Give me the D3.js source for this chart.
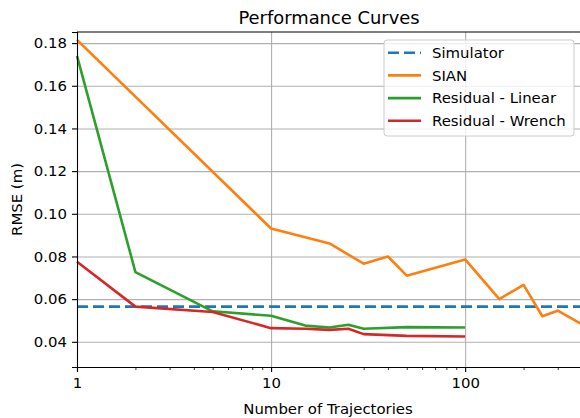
<!DOCTYPE html>
<html>
<head>
<meta charset="utf-8">
<script src="https://cdn.jsdelivr.net/npm/d3@7"></script>
<style>
	body { margin: 0; background: #fff; }
	svg { display: block; font-family: 'DejaVu Sans', sans-serif; }
</style>
</head>
<body>
<div id="chart"></div>
<script>
// values
const simulatorX = [1, 400];
const simulatorY = [0.0565, 0.0565];

const sianX = [1, 10, 20, 30, 40, 50, 100, 150, 200, 250, 300, 400];
const sianY = [0.1815, 0.0931, 0.0861, 0.0766, 0.0800, 0.0710, 0.0786, 0.0600, 0.0667, 0.0520, 0.0546, 0.0482];

const linearX = [1, 2, 5, 10, 15, 20, 25, 30, 50, 100];
const linearY = [0.1740, 0.0727, 0.0543, 0.0522, 0.0476, 0.0467, 0.0480, 0.0461, 0.0469, 0.0467];

const wrenchX = [1, 2, 5, 10, 15, 20, 25, 30, 50, 100];
const wrenchY = [0.0775, 0.0565, 0.0540, 0.0464, 0.0461, 0.0456, 0.0461, 0.0436, 0.0428, 0.0425];

const seriesNames = ['Simulator', 'SIAN', 'Residual - Linear', 'Residual - Wrench'];
const seriesColors = ['#1f77b4', '#ff7f0e', '#2ca02c', '#d62728'];

const xTicks = [1, 10, 100];
const xTickLabels = ['1', '10', '100'];
const yTicks = [0.04, 0.06, 0.08, 0.10, 0.12, 0.14, 0.16, 0.18];

const series = [
	{ name: seriesNames[0], x: simulatorX, y: simulatorY, color: seriesColors[0], dash: '11,5' },
	{ name: seriesNames[1], x: sianX, y: sianY, color: seriesColors[1], dash: null },
	{ name: seriesNames[2], x: linearX, y: linearY, color: seriesColors[2], dash: null },
	{ name: seriesNames[3], x: wrenchX, y: wrenchY, color: seriesColors[3], dash: null }
];

const width = 580, height = 418;
const margin = { top: 32, right: -2, bottom: 51, left: 77 };
const fontSize = 14.9;

const svg = d3.select('#chart').append('svg').attr('width', width).attr('height', height);

const xScale = d3.scaleLog().domain([1, 400]).range([margin.left, width - margin.right]);
const yScale = d3.scaleLinear().domain([0.0282, 0.1852]).range([height - margin.bottom, margin.top]);

const plotBottom = height - margin.bottom;

// grid
svg.append('g').attr('class', 'grid-y')
	.attr('transform', `translate(${margin.left},0)`)
	.call(d3.axisLeft(yScale).tickValues(yTicks).tickSize(-(width - margin.left)).tickFormat(''))
	.call(g => g.select('.domain').remove())
	.call(g => g.selectAll('line').attr('stroke', '#b0b0b0').attr('stroke-width', 1.1));

svg.append('g').attr('class', 'grid-x')
	.attr('transform', `translate(0,${plotBottom})`)
	.call(d3.axisBottom(xScale).tickValues(xTicks.slice(1)).tickSize(-(plotBottom - margin.top)).tickFormat(''))
	.call(g => g.select('.domain').remove())
	.call(g => g.selectAll('line').attr('stroke', '#b0b0b0').attr('stroke-width', 1.1));

// lines
const line = d3.line()
	.x(d => xScale(d[0]))
	.y(d => yScale(d[1]));

series.forEach(s => {
	const pts = s.x.map((xv, i) => [xv, s.y[i]]);
	svg.append('path').datum(pts)
		.attr('fill', 'none')
		.attr('stroke', s.color)
		.attr('stroke-width', 2.6)
		.attr('stroke-linejoin', 'round')
		.attr('stroke-dasharray', s.dash)
		.attr('d', line);
});

// axes
const minorTicks = [];
[1, 10, 100].forEach(dec => { for (let k = 2; k <= 9; k++) { if (dec * k <= 400) minorTicks.push(dec * k); } });

svg.append('g').attr('class', 'axis xminor')
	.attr('transform', `translate(0,${plotBottom})`)
	.call(d3.axisBottom(xScale).tickValues(minorTicks).tickSize(3).tickFormat(''))
	.call(g => g.select('.domain').remove())
	.call(g => g.selectAll('line').attr('stroke', '#000').attr('stroke-width', 0.8));

svg.append('g').attr('class', 'axis xaxis')
	.attr('transform', `translate(0,${plotBottom})`)
	.call(d3.axisBottom(xScale).tickValues(xTicks).tickSize(5).tickPadding(5).tickFormat((d, i) => xTickLabels[i]))
	.call(g => g.select('.domain').attr('stroke', '#000').attr('stroke-width', 1.1))
	.call(g => g.selectAll('line').attr('stroke', '#000').attr('stroke-width', 1.1))
	.call(g => g.selectAll('text').attr('font-size', fontSize).attr('fill', '#000').attr('font-family', 'DejaVu Sans'));

svg.append('g').attr('class', 'axis yaxis')
	.attr('transform', `translate(${margin.left},0)`)
	.call(d3.axisLeft(yScale).tickValues(yTicks).tickSize(5).tickPadding(5).tickFormat(d3.format('.2f')))
	.call(g => g.select('.domain').attr('stroke', '#000').attr('stroke-width', 1.1))
	.call(g => g.selectAll('line').attr('stroke', '#000').attr('stroke-width', 1.1))
	.call(g => g.selectAll('text').attr('font-size', fontSize).attr('fill', '#000').attr('font-family', 'DejaVu Sans'));

// top spine
svg.append('line')
	.attr('x1', margin.left).attr('x2', width)
	.attr('y1', margin.top).attr('y2', margin.top)
	.attr('stroke', '#000').attr('stroke-width', 1.1);

// titles
svg.append('text').attr('x', 329).attr('y', 24)
	.attr('text-anchor', 'middle').attr('font-size', 17.9)
	.text('Performance Curves');

svg.append('text').attr('x', 328).attr('y', 414)
	.attr('text-anchor', 'middle').attr('font-size', fontSize)
	.text('Number of Trajectories');

svg.append('text')
	.attr('transform', `translate(22,${(margin.top + plotBottom) / 2}) rotate(-90)`)
	.attr('text-anchor', 'middle').attr('font-size', fontSize)
	.text('RMSE (m)');

// legend
const legend = svg.append('g').attr('transform', 'translate(384,40)');
legend.append('rect')
	.attr('width', 190).attr('height', 96).attr('rx', 3)
	.attr('fill', 'rgba(255,255,255,0.8)')
	.attr('stroke', '#cccccc').attr('stroke-width', 1);

series.forEach((s, i) => {
	const row = legend.append('g').attr('transform', `translate(0,${12.7 + i * 22.7})`);
	row.append('line')
		.attr('x1', 4).attr('x2', 37).attr('y1', 0).attr('y2', 0)
		.attr('stroke', s.color).attr('stroke-width', 2.6)
		.attr('stroke-dasharray', s.dash);
	row.append('text').attr('x', 48).attr('y', 5.3)
		.attr('font-size', fontSize)
		.text(s.name);
});
</script>
</body>
</html>
